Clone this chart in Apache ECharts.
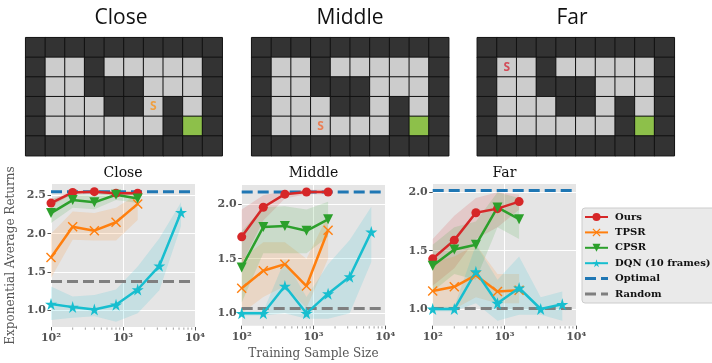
<!DOCTYPE html>
<html><head><meta charset="utf-8">
<script src="https://cdn.jsdelivr.net/npm/echarts@6/dist/echarts.min.js"></script>
<style>html,body{margin:0;padding:0;background:#fff}#c{width:712px;height:363px}</style>
</head><body><div id="c"></div>
<script>
// ---------- data ----------
const mazeRows = [
  "##########",
  "#..#.....#",
  "#..###...#",
  "#...##.#.#",
  "#......#G#",
  "##########"
];
const mazeTitles = ['Close', 'Middle', 'Far'];
const mazeStarts = [[6, 3], [3, 4], [1, 1]];
const plotTitles = ['Close', 'Middle', 'Far'];
const seriesNames = ['Ours', 'TPSR', 'CPSR', 'DQN (10 frames)'];
const baselineNames = ['Optimal', 'Random'];
const xSamples = [100, 200, 400, 800, 1600, 3200, 6400];
const xTickVals = [100, 1000, 10000];
const xTickLabels = ['10²', '10³', '10⁴'];
const minorTickVals = [200, 300, 400, 500, 600, 700, 800, 900, 2000, 3000, 4000, 5000, 6000, 7000, 8000, 9000];
const yTicksClose = [1.0, 1.5, 2.0, 2.5];
const yTicksMiddle = [1.0, 1.5, 2.0];
const yTicksFar = [1.0, 1.5, 2.0];
const yRangeClose = [0.78, 2.65];
const yRangeMiddle = [0.887, 2.174];
const yRangeFar = [0.857, 2.071];

// Close
const closeOurs = [2.40, 2.54, 2.55, 2.53, 2.53];
const closeOursLo = [2.36, 2.52, 2.53, 2.50, 2.50];
const closeOursHi = [2.45, 2.56, 2.57, 2.56, 2.56];
const closeTPSR = [1.69, 2.09, 2.04, 2.15, 2.39];
const closeTPSRLo = [1.42, 1.92, 1.91, 1.91, 2.18];
const closeTPSRHi = [2.00, 2.29, 2.27, 2.34, 2.52];
const closeCPSR = [2.27, 2.44, 2.41, 2.51, 2.46];
const closeCPSRLo = [2.14, 2.34, 2.32, 2.44, 2.40];
const closeCPSRHi = [2.45, 2.52, 2.50, 2.56, 2.55];
const closeDQN = [1.08, 1.04, 1.01, 1.07, 1.27, 1.58, 2.28];
const closeDQNLo = [0.87, 0.90, 0.92, 0.85, 0.96, 1.26, 2.10];
const closeDQNHi = [1.31, 1.18, 1.20, 1.27, 1.57, 1.94, 2.41];
const closeOptimal = 2.55;
const closeRandom = 1.375;

// Middle
const middleOurs = [1.70, 1.97, 2.09, 2.11, 2.11];
const middleOursLo = [1.45, 1.85, 2.05, 2.09, 2.09];
const middleOursHi = [1.95, 2.08, 2.12, 2.13, 2.13];
const middleTPSR = [1.23, 1.39, 1.45, 1.25, 1.76];
const middleTPSRLo = [1.00, 1.15, 1.25, 1.05, 1.50];
const middleTPSRHi = [1.50, 1.65, 1.65, 1.50, 1.90];
const middleCPSR = [1.42, 1.79, 1.80, 1.755, 1.86];
const middleCPSRLo = [1.10, 1.55, 1.55, 1.55, 1.70];
const middleCPSRHi = [1.75, 1.97, 1.98, 1.95, 2.02];
const middleDQN = [1.00, 1.00, 1.25, 1.00, 1.18, 1.335, 1.745];
const middleDQNLo = [0.98, 0.98, 1.00, 0.95, 0.95, 1.00, 1.47];
const middleDQNHi = [1.02, 1.02, 1.49, 1.15, 1.45, 1.67, 1.975];
const middleOptimal = 2.11;
const middleRandom = 1.045;

// Far
const farOurs = [1.43, 1.59, 1.825, 1.86, 1.92];
const farOursLo = [1.20, 1.35, 1.60, 1.70, 1.85];
const farOursHi = [1.60, 1.80, 1.95, 2.00, 1.98];
const farTPSR = [1.155, 1.19, 1.29, 1.15, 1.16];
const farTPSRLo = [1.00, 1.00, 1.10, 1.05, 1.05];
const farTPSRHi = [1.40, 1.45, 1.55, 1.30, 1.30];
const farCPSR = [1.37, 1.51, 1.55, 1.87, 1.77];
const farCPSRLo = [1.15, 1.30, 1.25, 1.70, 1.60];
const farCPSRHi = [1.55, 1.70, 1.75, 2.00, 1.95];
const farDQN = [1.00, 1.00, 1.32, 1.05, 1.18, 1.00, 1.04];
const farDQNLo = [0.98, 0.98, 1.05, 0.90, 0.95, 0.95, 0.90];
const farDQNHi = [1.02, 1.02, 1.55, 1.25, 1.45, 1.10, 1.15];
const farOptimal = 2.015;
const farRandom = 1.005;

// ---------- styling / assembly ----------
const COLORS = { 'Ours': '#d62728', 'TPSR': '#ff7f0e', 'CPSR': '#2ca02c', 'DQN (10 frames)': '#17becf', 'Optimal': '#1f77b4', 'Random': '#7f7f7f' };
const STAR = 'path://M50,0 L61,35 L98,35 L68,57 L79,91 L50,70 L21,91 L32,57 L2,35 L39,35 Z';
const XMARK = 'path://M0,1 L1,0 L5,4 L9,0 L10,1 L6,5 L10,9 L9,10 L5,6 L1,10 L0,9 L4,5 Z';
const DASH_ICON = 'path://M0,0 L11,0 L11,3 L0,3 Z M16,0 L23,0 L23,3 L16,3 Z';
const MARKERS = {
  'Ours': { symbol: 'circle', size: 9, rot: 0 },
  'TPSR': { symbol: XMARK, size: 10, rot: 0 },
  'CPSR': { symbol: 'triangle', size: 10, rot: 180 },
  'DQN (10 frames)': { symbol: STAR, size: 12, rot: 0 }
};
const plots = [
  { title: plotTitles[0], range: yRangeClose, ticks: yTicksClose,
    lines: [[closeOurs, closeOursLo, closeOursHi], [closeTPSR, closeTPSRLo, closeTPSRHi], [closeCPSR, closeCPSRLo, closeCPSRHi], [closeDQN, closeDQNLo, closeDQNHi]],
    optimal: closeOptimal, random: closeRandom },
  { title: plotTitles[1], range: yRangeMiddle, ticks: yTicksMiddle,
    lines: [[middleOurs, middleOursLo, middleOursHi], [middleTPSR, middleTPSRLo, middleTPSRHi], [middleCPSR, middleCPSRLo, middleCPSRHi], [middleDQN, middleDQNLo, middleDQNHi]],
    optimal: middleOptimal, random: middleRandom },
  { title: plotTitles[2], range: yRangeFar, ticks: yTicksFar,
    lines: [[farOurs, farOursLo, farOursHi], [farTPSR, farTPSRLo, farTPSRHi], [farCPSR, farCPSRLo, farCPSRHi], [farDQN, farDQNLo, farDQNHi]],
    optimal: farOptimal, random: farRandom }
];

const mazeGrids = [
  { left: 25.7, top: 37.7, width: 196.5, height: 118 },
  { left: 251.7, top: 37.7, width: 197, height: 118 },
  { left: 477.3, top: 37.7, width: 197, height: 118 }
];
const plotGrids = [
  { left: 51, top: 184, width: 144, height: 143 },
  { left: 241.7, top: 185, width: 143.5, height: 140.7 },
  { left: 432.7, top: 184, width: 143.5, height: 141.7 }
];
const startColors = ['#f7941d', '#f26a36', '#d42a3a'];

const grid = [], xAxis = [], yAxis = [], series = [], graphic = [];
const SERIF = 'DejaVu Serif';

// mazes
const mazeCells = [];
mazeRows.forEach((row, r) => row.split('').forEach((ch, c) => {
  mazeCells.push([c, r, ch === '#' ? 0 : (ch === 'G' ? 2 : 1)]);
}));
mazeGrids.forEach((g, k) => {
  grid.push(Object.assign({ show: false, outerBoundsMode: 'none' }, g));
  xAxis.push({ type: 'category', gridIndex: k, data: mazeRows[0].split('').map((_, i) => i), show: false });
  yAxis.push({ type: 'category', gridIndex: k, data: mazeRows.map((_, i) => i), inverse: true, show: false });
  series.push({
    type: 'heatmap', xAxisIndex: k, yAxisIndex: k, data: mazeCells, silent: true,
    itemStyle: { borderColor: '#111', borderWidth: 1 }, emphasis: { disabled: true }
  });
  graphic.push({
    type: 'text', x: [121, 350, 572][k], y: 18,
    style: { text: mazeTitles[k], font: '21px "Open Sans"', fill: '#111', textAlign: 'center', textVerticalAlign: 'middle' }
  });
});
mazeStarts.forEach((s, k) => {
  series.push({
    type: 'scatter', xAxisIndex: k, yAxisIndex: k, data: [s], symbolSize: 1, silent: true,
    itemStyle: { color: 'rgba(0,0,0,0)' }, z: 5,
    label: { show: true, position: 'inside', formatter: 'S', color: startColors[k], fontFamily: 'Open Sans', fontWeight: 'bold', fontSize: 12 }
  });
});

// line plots
plots.forEach((p, j) => {
  const gi = 3 + j;
  grid.push(Object.assign({ show: true, backgroundColor: '#e5e5e5', borderWidth: 0, outerBoundsMode: 'none' }, plotGrids[j]));
  xAxis.push({
    type: 'log', logBase: 10, gridIndex: gi, min: 100, max: 10000,
    axisLine: { show: false },
    axisTick: { show: true, length: 3.5, lineStyle: { color: '#555', width: 1 }, customValues: xTickVals },
    axisLabel: { customValues: xTickVals, formatter: v => xTickLabels[xTickVals.indexOf(v)] !== undefined ? xTickLabels[xTickVals.indexOf(v)] : '', fontFamily: SERIF, fontWeight: 'bold', fontSize: 11, color: '#555', margin: 6, showMinLabel: true, showMaxLabel: true },
    splitLine: { show: true, lineStyle: { color: '#fff', width: 1 } },
    minorTick: { show: false },
    name: j === 1 ? 'Training Sample Size' : '', nameLocation: 'middle', nameGap: 22,
    nameTextStyle: { fontFamily: SERIF, fontSize: 12, color: '#555' }
  });
  yAxis.push({
    type: 'value', gridIndex: gi, min: p.range[0], max: p.range[1], splitNumber: 4,
    axisLine: { show: false },
    axisTick: { show: true, length: 3.5, lineStyle: { color: '#555', width: 1 }, customValues: p.ticks },
    axisLabel: { customValues: p.ticks, formatter: v => v.toFixed(1), fontFamily: SERIF, fontWeight: 'bold', fontSize: 11, color: '#555', margin: 5 },
    splitLine: { show: true, lineStyle: { color: '#fff', width: 1 } },
    name: j === 0 ? 'Exponential Average Returns' : '', nameLocation: 'middle', nameGap: 34,
    nameTextStyle: { fontFamily: SERIF, fontSize: 12, color: '#555' }
  });
  graphic.push({
    type: 'text', x: plotGrids[j].left + plotGrids[j].width / 2, y: 173,
    style: { text: p.title, font: '14px "DejaVu Serif"', fill: '#111', textAlign: 'center', textVerticalAlign: 'middle' }
  });
  // bands
  p.lines.forEach((ln, i) => {
    const name = seriesNames[i];
    const xs = xSamples.slice(0, ln[0].length);
    const lo = ln[1], hi = ln[2];
    series.push({
      type: 'custom', name: name + ' band', xAxisIndex: gi, yAxisIndex: gi, silent: true, z: 1,
      data: xs.map((x, t) => [x, lo[t], hi[t]]), encode: { x: 0, y: [1, 2] },
      renderItem: function (params, api) {
        if (params.dataIndex !== 0) return null;
        const top = xs.map((x, t) => api.coord([x, hi[t]]));
        const bot = xs.map((x, t) => api.coord([x, lo[t]])).reverse();
        return { type: 'polygon', shape: { points: top.concat(bot) }, style: { fill: COLORS[name], opacity: 0.15 } };
      }
    });
  });
  // baselines
  [p.optimal, p.random].forEach((v, i) => {
    const name = baselineNames[i];
    series.push({
      type: 'line', name: name, xAxisIndex: gi, yAxisIndex: gi, z: 2,
      data: [[xTickVals[0], v], [xTickVals[2], v]], symbol: 'none', silent: true,
      color: COLORS[name], itemStyle: { color: COLORS[name] },
      lineStyle: { color: COLORS[name], width: 3, type: [11, 5] },
      emphasis: { disabled: true }
    });
  });
  // mean lines
  p.lines.forEach((ln, i) => {
    const name = seriesNames[i];
    const m = MARKERS[name];
    series.push({
      type: 'line', name: name, xAxisIndex: gi, yAxisIndex: gi, z: 3,
      data: ln[0].map((v, t) => [xSamples[t], v]),
      symbol: m.symbol, symbolSize: m.size, symbolRotate: m.rot, showSymbol: true, showAllSymbol: true,
      color: COLORS[name], itemStyle: { color: COLORS[name] },
      lineStyle: { color: COLORS[name], width: 2.5 }, silent: true, emphasis: { disabled: true }
    });
  });
  // minor x ticks
  series.push({
    type: 'scatter', xAxisIndex: gi, yAxisIndex: gi, silent: true, clip: false, z: 4,
    data: minorTickVals.map(v => [v, p.range[0]]), symbol: 'rect', symbolSize: [1, 2.2], symbolOffset: [0, 1.6],
    itemStyle: { color: '#888' }
  });
});

const chart = echarts.init(document.getElementById('c'), null, { renderer: 'canvas' });
chart.setOption({
  animation: false,
  grid: grid, xAxis: xAxis, yAxis: yAxis, series: series, graphic: graphic,
  visualMap: {
    type: 'piecewise', show: false, seriesIndex: [0, 1, 2], dimension: 2,
    pieces: [{ value: 0, color: '#333333' }, { value: 1, color: '#cccccc' }, { value: 2, color: '#8dc04a' }]
  },
  legend: {
    data: seriesNames.map(n => ({ name: n })).concat(baselineNames.map(n => ({ name: n, icon: DASH_ICON, itemStyle: { color: COLORS[n] } }))),
    orient: 'vertical', left: 582, top: 208,
    itemWidth: 23, itemHeight: 10, itemGap: 5.4, padding: [4, 6, 4, 2], symbolKeepAspect: true,
    backgroundColor: '#eaeaea', borderColor: '#cccccc', borderWidth: 1, borderRadius: 3,
    textStyle: { fontFamily: SERIF, fontWeight: 'bold', fontSize: 10, color: '#111', padding: [0, 0, 0, 2] },
    selectedMode: false
  },
  tooltip: { show: false }
});
</script></body></html>
